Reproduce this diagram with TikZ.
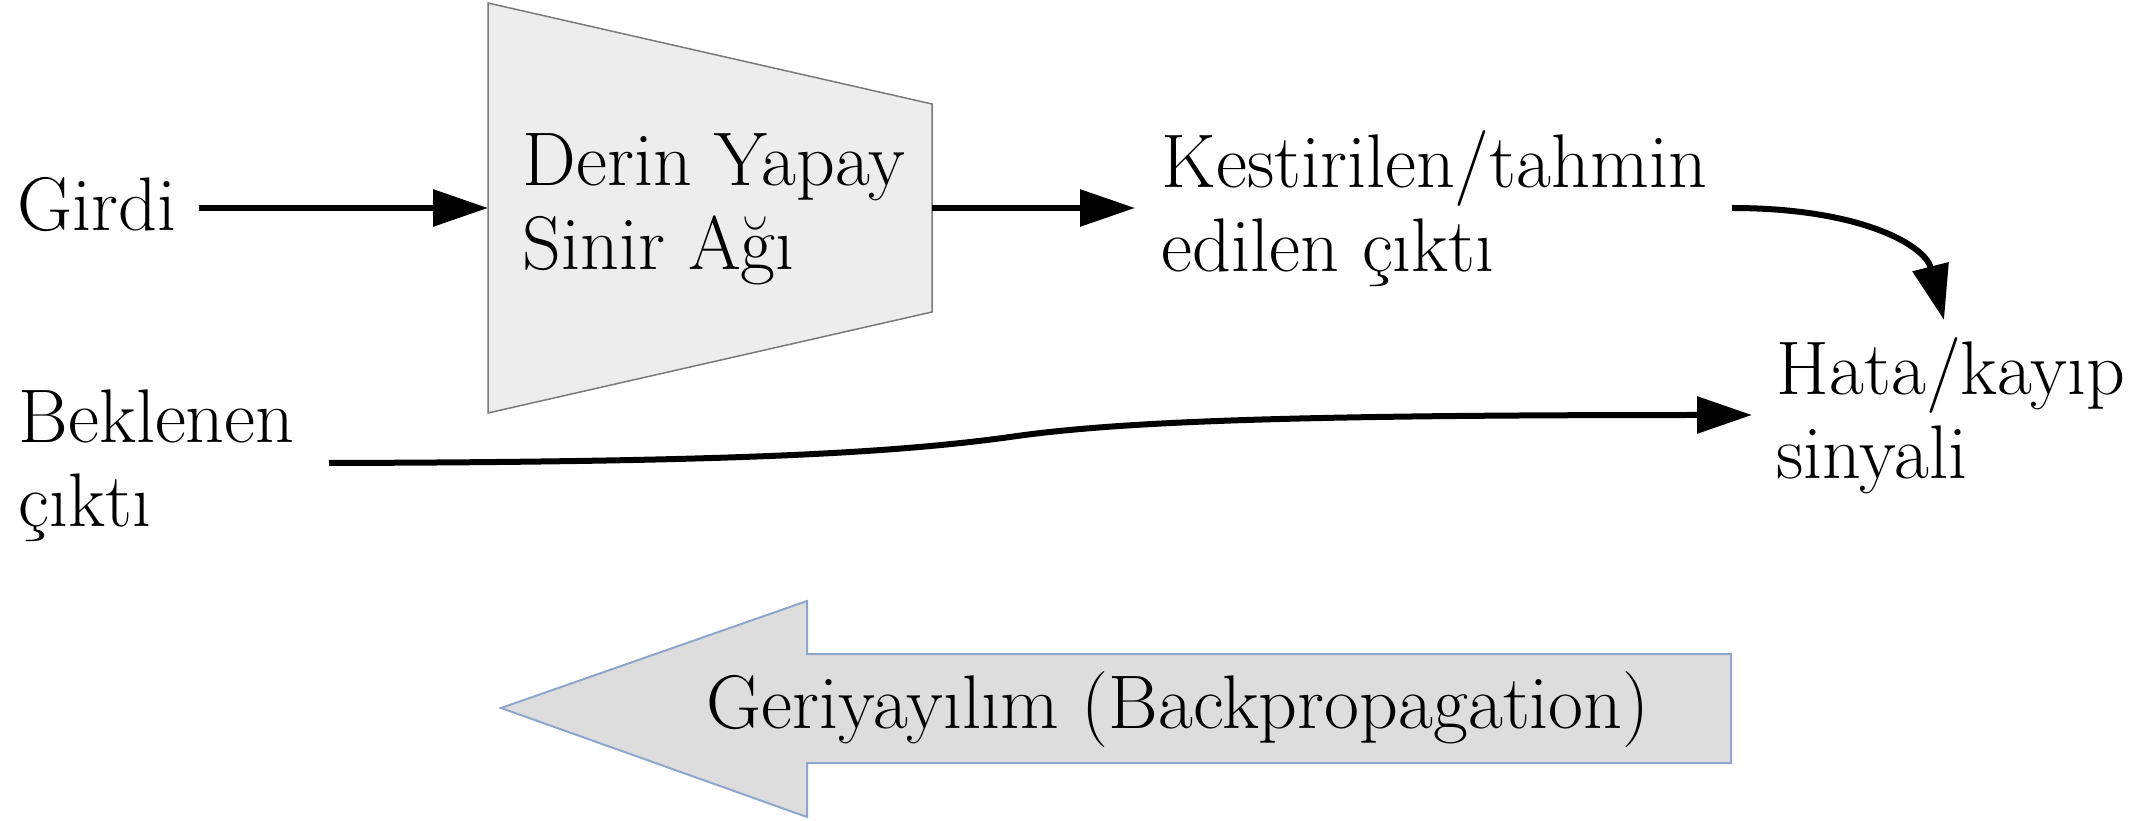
\documentclass[tikz,border=0pt]{standalone}
\usetikzlibrary{arrows.meta}
\definecolor{trapfill}{HTML}{EDEDED}
\definecolor{trapline}{HTML}{7A7A7A}
\definecolor{bpfill}{HTML}{DDDDDD}
\definecolor{bpline}{HTML}{8FA6CC}
\tikzset{
  lbl/.style={anchor=base west, inner sep=0pt, align=left, font=\fontsize{22.8pt}{25.2pt}\selectfont},
  conn/.style={line width=1.8pt, -{Triangle[length=16.5pt,width=10.8pt]}},
}
\begin{document}
\begin{tikzpicture}[x=0.3pt,y=-0.3pt]
\useasboundingbox (0,0) rectangle (2148,821);
% trapezoid (network)
\coordinate (tl) at (488,3);
\coordinate (tr) at (932,104);
\coordinate (br) at (932,312);
\coordinate (bl) at (488,413);
\draw[fill=trapfill, draw=trapline, line width=0.45pt] (tl) -- (tr) -- (br) -- (bl) -- cycle;
\coordinate (nin) at (488,208);
\coordinate (nout) at (932,208);
% labels (base = baseline of the last line)
\node[lbl] (girdi) at (17,231) {Girdi};
\node[lbl] (dnn) at (522,270) {Derin Yapay\\Sinir Ağı};
\node[lbl] (kes) at (1161,272) {Kestirilen/tahmin\\edilen çıktı};
\node[lbl] (hata) at (1776,479) {Hata/kayıp\\sinyali};
\node[lbl] (bek) at (18,527) {Beklenen\\çıktı};
% connector end points
\coordinate (g0) at (199,208);
\coordinate (kin) at (1135,208);
\coordinate (k0) at (1732,208);
\coordinate (hin) at (1944,320);
\coordinate (b0) at (329,463);
\coordinate (hin2) at (1752,415);
% connectors
\draw[conn] (g0) -- (nin);
\draw[conn] (nout) -- (kin);
\draw[conn] (k0) .. controls (1860,208) and (1925,245) .. (hin);
\draw[conn] (b0) .. controls (700,462) and (880,455) .. (1010,437)
            .. controls (1120,421) and (1300,415) .. (hin2);
% backpropagation arrow
\draw[fill=bpfill, draw=bpline, line width=0.6pt]
  (501,708) -- (807,601) -- (807,654) -- (1731,654) -- (1731,763) -- (807,763) -- (807,817) -- cycle;
\node[anchor=base, inner sep=0pt, font=\fontsize{22.8pt}{25.2pt}\selectfont] (bp) at (1178,728) {Geriyayılım (Backpropagation)};
\end{tikzpicture}
\end{document}
